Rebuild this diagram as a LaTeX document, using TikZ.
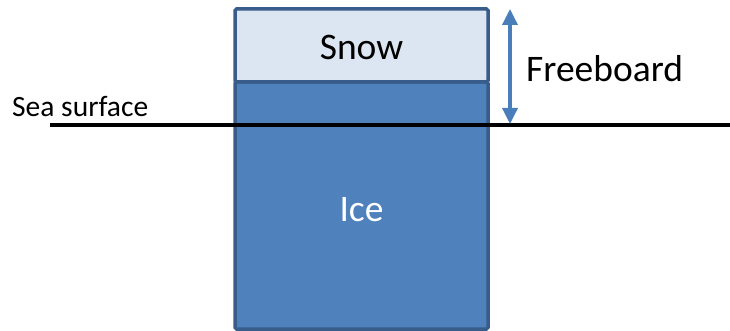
\documentclass[tikz,border=0pt]{standalone}
\usepackage{fontspec}
\setmainfont{Carlito}
\usetikzlibrary{arrows.meta}
\definecolor{snowfill}{HTML}{DCE6F2}
\definecolor{icefill}{HTML}{4F81BD}
\definecolor{edgeblue}{HTML}{385D8A}
\definecolor{arrowblue}{HTML}{4A7EBB}
\tikzset{
  layer/.style={draw=edgeblue, line width=3.5pt, rounded corners=1.5pt},
  lbl/.style={inner sep=0pt, font=\fontsize{37.5}{40}\selectfont},
}
\begin{document}
\begin{tikzpicture}[x=1pt,y=-1pt]
\useasboundingbox (0,0) rectangle (730,331);
\filldraw[layer, fill=icefill] (235,82) rectangle (488,329);
\filldraw[layer, fill=snowfill] (235,9) rectangle (488,82);
\node[lbl, text=black] (snow) at (361.5,47) {Snow};
\node[lbl, text=white] (ice) at (361.5,210) {Ice};
\coordinate (seaL) at (50,125);
\coordinate (seaR) at (730,125);
\draw[line width=4.5pt, black] (seaL) -- (seaR);
\node[anchor=base west, inner sep=0pt, font=\fontsize{29.5}{31}\selectfont] (sea) at (12,117) {Sea surface};
\coordinate (fbTop) at (510,9);
\coordinate (fbBot) at (510,124);
\draw[line width=3.5pt, arrowblue, {Triangle[width=15pt,length=16pt]}-{Triangle[width=15pt,length=16pt]}] (fbTop) -- (fbBot);
\node[lbl, anchor=west] (fb) at (526,69) {Freeboard};
\end{tikzpicture}
\end{document}
